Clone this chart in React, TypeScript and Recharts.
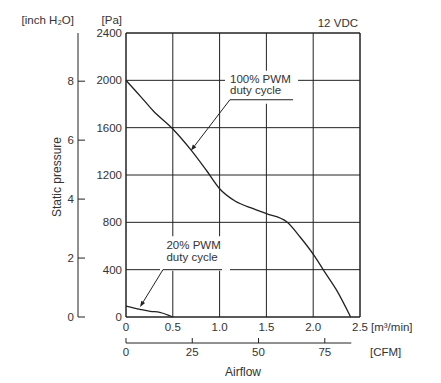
import React from 'react';
import {
  LineChart,
  Line,
  XAxis,
  YAxis,
  CartesianGrid,
  ReferenceArea,
  ReferenceLine,
} from 'recharts';

// airflow [m3/min] vs static pressure [Pa]
const flow100 = [0, 0.15, 0.29, 0.5, 0.7, 0.86, 1.0, 1.165, 1.36, 1.5, 1.72, 1.86, 2.02, 2.11, 2.25, 2.4];
const pa100 = [2000, 1869, 1743, 1589, 1406, 1238, 1084, 980, 915, 873, 802, 676, 508, 396, 227, 0];
const flow20 = [0, 0.15, 0.26, 0.36, 0.5];
const pa20 = [93, 65, 48, 40, 0];

const flowTicks = [0, 0.5, 1.0, 1.5, 2.0, 2.5];
const paTicks = [0, 400, 800, 1200, 1600, 2000, 2400];
const inchTicks = [0, 2, 4, 6, 8];
const cfmTicks = [0, 25, 50, 75];

const PA_PER_INCH = 249.089;
const CFM_PER_M3 = 35.3147;
const FLOW_MAX = 2.5;
const PA_MAX = 2400;
const CFM_AXIS_END = 85;

// annotations, in data units: [x1, x2, y1, y2] boxes, leader lines
const box100 = [1.058, 1.838, 1802, 2080];
const underline100 = [1.11, 1.785, 1836];
const tip100 = [0.694, 1406];
const box20 = [0.363, 1.111, 390, 682];
const underline20 = [0.395, 1.026, 400];
const tip20 = [0.15, 84];

const data100 = flow100.map((f, i) => ({ flow: f, pa: pa100[i] }));
const data20 = flow20.map((f, i) => ({ flow: f, pa: pa20[i] }));

const FONT = '"Liberation Sans", Arial, sans-serif';
const INK = '#222';
const TXT = '#333';
const FS = 11.5;

const txt = { fill: TXT, fontSize: FS, fontFamily: FONT };

// axis ids sort so the main axes sit next to the plot
const X_MAIN = 'a_m3';
const X_CFM = 'b_cfm';
const Y_MAIN = 'a_pa';
const Y_INCH = 'b_inch';

const ArrowLine = (props: any) => {
  const { x1, y1, x2, y2 } = props;
  const a = Math.atan2(y2 - y1, x2 - x1);
  const len = 6;
  const w = 2.2;
  const bx = x2 - len * Math.cos(a);
  const by = y2 - len * Math.sin(a);
  const pts = `${x2},${y2} ${bx - w * Math.sin(a)},${by + w * Math.cos(a)} ${bx + w * Math.sin(a)},${by - w * Math.cos(a)}`;
  return (
    <g>
      <line x1={x1} y1={y1} x2={bx} y2={by} stroke={INK} strokeWidth={1} />
      <polygon points={pts} fill={INK} />
    </g>
  );
};

const boxText = (lines: string[], dx: number, dy: number) => (props: any) => {
  const { x, y } = props.viewBox;
  return (
    <text x={x + dx} y={y + dy} {...txt}>
      {lines.map((l, i) => (
        <tspan key={i} x={x + dx} dy={i === 0 ? 0 : 11.6}>
          {l}
        </tspan>
      ))}
    </text>
  );
};

const InchTick = (props: any) => {
  const { x, y, payload } = props;
  return (
    <g>
      <line x1={x + 4} x2={x + 11} y1={y} y2={y} stroke={INK} />
      <text x={x} y={y} dy="0.355em" textAnchor="end" {...txt}>
        {payload.value}
      </text>
    </g>
  );
};

const CfmTick = (props: any) => {
  const { x, y, payload } = props;
  return (
    <g>
      <line x1={x} x2={x} y1={y} y2={y - 5} stroke={INK} />
      <text x={x} y={y + 5} dy="0.71em" textAnchor="middle" {...txt}>
        {payload.value}
      </text>
    </g>
  );
};

export default function App() {
  return (
    <div style={{ position: 'absolute', left: 0, top: 0 }}>
      <LineChart
        width={441}
        height={383}
        data={data100}
        margin={{ top: 33, right: 81, bottom: 0, left: 0 }}
        style={{ fontFamily: FONT }}
      >
        <CartesianGrid xAxisId={X_MAIN} yAxisId={Y_MAIN} stroke={INK} strokeOpacity={1} />
        <XAxis
          xAxisId={X_CFM}
          dataKey={(d: any) => d.flow * CFM_PER_M3}
          type="number"
          domain={[0, FLOW_MAX * CFM_PER_M3]}
          allowDataOverflow
          ticks={cfmTicks}
          interval={0}
          height={40}
          axisLine={false}
          tickLine={false}
          tickSize={0}
          tickMargin={0}
          tick={<CfmTick />}
          label={{
            content: (p: any) => {
              const { x, y, width } = p.viewBox;
              const end = x + (width * CFM_AXIS_END) / (FLOW_MAX * CFM_PER_M3);
              return (
                <g>
                  <line x1={x} x2={end} y1={y} y2={y} stroke={INK} />
                  <text x={x + width + 10} y={y + 5} dy="0.71em" {...txt}>
                    [CFM]
                  </text>
                  <text x={x + width / 2} y={y + 33} textAnchor="middle" {...txt} fontSize={12}>
                    Airflow
                  </text>
                </g>
              );
            },
          }}
        />
        <XAxis
          xAxisId={X_MAIN}
          dataKey="flow"
          type="number"
          domain={[0, FLOW_MAX]}
          ticks={flowTicks}
          interval={0}
          height={26}
          tickLine={false}
          tickSize={0}
          tickMargin={6}
          axisLine={{ stroke: INK }}
          tick={txt}
          tickFormatter={(v: number) => (v === 0 ? '0' : v.toFixed(1))}
          label={{
            content: (p: any) => (
              <text x={p.viewBox.x + p.viewBox.width + 11} y={p.viewBox.y + 6} dy="0.71em" {...txt}>
                [m³/min]
              </text>
            ),
          }}
        />
        <YAxis
          yAxisId={Y_INCH}
          type="number"
          domain={[0, PA_MAX / PA_PER_INCH]}
          allowDataOverflow
          ticks={inchTicks}
          interval={0}
          width={78}
          tickLine={false}
          tickSize={0}
          tickMargin={4}
          axisLine={{ stroke: INK }}
          tick={<InchTick />}
          label={{
            content: (p: any) => {
              const { x, y, width, height } = p.viewBox;
              const cy = y + height / 2 + 2;
              return (
                <g>
                  <text x={x + width - 4} y={y - 9} textAnchor="end" {...txt}>
                    [inch H₂O]
                  </text>
                  <text
                    x={57}
                    y={cy}
                    textAnchor="middle"
                    dominantBaseline="central"
                    transform={`rotate(-90 57 ${cy})`}
                    {...txt}
                    fontSize={12}
                  >
                    Static pressure
                  </text>
                </g>
              );
            },
          }}
        />
        <YAxis
          yAxisId={Y_MAIN}
          type="number"
          domain={[0, PA_MAX]}
          ticks={paTicks}
          interval={0}
          width={48}
          tickLine={false}
          tickSize={0}
          tickMargin={4}
          axisLine={{ stroke: INK }}
          tick={txt}
          label={{
            content: (p: any) => (
              <text x={p.viewBox.x + p.viewBox.width - 4} y={p.viewBox.y - 9} textAnchor="end" {...txt}>
                [Pa]
              </text>
            ),
          }}
        />

        <ReferenceLine
          xAxisId={X_MAIN}
          yAxisId={Y_MAIN}
          y={PA_MAX}
          stroke={INK}
          label={{
            content: (p: any) => (
              <text x={p.viewBox.x + p.viewBox.width - 2} y={p.viewBox.y - 6} textAnchor="end" {...txt}>
                12 VDC
              </text>
            ),
          }}
        />
        <ReferenceLine xAxisId={X_MAIN} yAxisId={Y_MAIN} x={FLOW_MAX} stroke={INK} />

        <ReferenceArea
          xAxisId={X_MAIN}
          yAxisId={Y_MAIN}
          x1={box100[0]}
          x2={box100[1]}
          y1={box100[2]}
          y2={box100[3]}
          fill="#fff"
          fillOpacity={1}
          stroke="none"
          label={{ content: boxText(['100% PWM', 'duty cycle'], 5, 11.7) }}
        />
        <ReferenceArea
          xAxisId={X_MAIN}
          yAxisId={Y_MAIN}
          x1={box20[0]}
          x2={box20[1]}
          y1={box20[2]}
          y2={box20[3]}
          fill="#fff"
          fillOpacity={1}
          stroke="none"
          label={{ content: boxText(['20% PWM', 'duty cycle'], 6.5, 13) }}
        />
        <ReferenceLine
          xAxisId={X_MAIN}
          yAxisId={Y_MAIN}
          segment={[
            { x: underline100[0], y: underline100[2] },
            { x: underline100[1], y: underline100[2] },
          ]}
          stroke={INK}
        />
        <ReferenceLine
          xAxisId={X_MAIN}
          yAxisId={Y_MAIN}
          segment={[
            { x: underline20[0], y: underline20[2] },
            { x: underline20[1], y: underline20[2] },
          ]}
          stroke={INK}
        />
        <ReferenceLine
          xAxisId={X_MAIN}
          yAxisId={Y_MAIN}
          segment={[
            { x: underline100[0], y: underline100[2] },
            { x: tip100[0], y: tip100[1] },
          ]}
          shape={ArrowLine}
        />
        <ReferenceLine
          xAxisId={X_MAIN}
          yAxisId={Y_MAIN}
          segment={[
            { x: underline20[0], y: underline20[2] },
            { x: tip20[0], y: tip20[1] },
          ]}
          shape={ArrowLine}
        />

        <Line
          xAxisId={X_MAIN}
          yAxisId={Y_MAIN}
          dataKey="pa"
          type="monotone"
          stroke={INK}
          strokeWidth={1.3}
          dot={false}
          isAnimationActive={false}
        />
        <Line
          xAxisId={X_MAIN}
          yAxisId={Y_MAIN}
          data={data20}
          dataKey="pa"
          type="monotone"
          stroke={INK}
          strokeWidth={1.3}
          dot={false}
          isAnimationActive={false}
        />
      </LineChart>
    </div>
  );
}
